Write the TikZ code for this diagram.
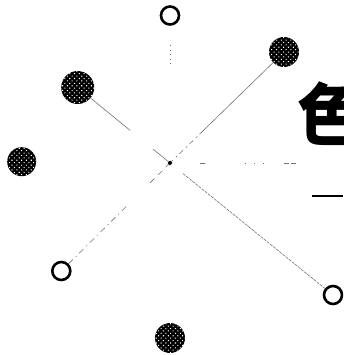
\documentclass[tikz,border=0pt]{standalone}
\usepackage{fontspec}
\newfontfamily\cjk{Noto Sans CJK SC}
\usetikzlibrary{calc,patterns.meta}
\tikzset{
  opencirc/.style={circle,draw=black,line width=2.6pt,minimum size=18pt,inner sep=0pt},
  dotcirc/.style={circle,fill=black,inner sep=0pt,
    postaction={pattern={Dots[distance=3.4pt,radius=0.75pt,angle=45]},pattern color=white}},
  conn/.style={draw=black!55,line width=0.6pt},
}
\begin{document}
\begin{tikzpicture}[x=1pt,y=-1pt]
\useasboundingbox (0,0) rectangle (343,355);
\clip (0,0) rectangle (343,355);
% centre
\coordinate (c) at (170,163);
\coordinate (h) at (306,163);
% circles
\node[opencirc] (top) at (170,15.5) {};
\node[dotcirc,minimum size=30pt] (ur) at (284,52) {};
\node[dotcirc,minimum size=33pt] (ul) at (77.7,87.5) {};
\node[dotcirc,minimum size=29pt] (lf) at (21.7,161.7) {};
\node[opencirc] (ll) at (61.3,271) {};
\node[opencirc] (lr) at (333,295) {};
\node[dotcirc,minimum size=30pt] (bt) at (170,338) {};
% connectors
\draw[conn,dash pattern=on 0.6pt off 4pt] ($(top)!0.2!(c)$) -- ($(top)!0.35!(c)$);
\draw[conn] (ur) -- ($(ur)!0.71!(c)$);
\draw[conn,dash pattern=on 5pt off 3pt on 2pt off 4pt] ($(ur)!0.71!(c)$) -- (c);
\draw[conn] (ul) -- ($(ul)!0.567!(c)$);
\draw[conn] ($(ul)!0.815!(c)$) -- (c);
\draw[conn,dash pattern=on 6pt off 4pt on 1pt off 4pt] (ll) -- ($(ll)!0.605!(c)$);
\draw[conn,dash pattern=on 6pt off 5pt] ($(ll)!0.817!(c)$) -- (c);
\draw[conn,dash pattern=on 3pt off 1pt] ($(c)!0.08!(lr)$) -- (lr);
\draw[conn,dash pattern=on 0pt off 30pt on 5pt off 40pt on 1pt off 8pt on 1pt off 8pt on 1pt off 20pt on 5pt off 2pt on 5pt off 10pt] (c) -- (h);
% centre mark
\node[fill=black,inner sep=0pt,minimum size=3.5pt,rotate=45] (cm) at (c) {};
% title glyph
\node[anchor=base west,inner sep=0pt,font=\cjk\bfseries\fontsize{68pt}{68pt}\selectfont] (title) at (297,141) {色};
\coordinate (u1) at (312,196);
\coordinate (u2) at (343,196);
\draw[line width=2pt] (u1) -- (u2);
\end{tikzpicture}
\end{document}
